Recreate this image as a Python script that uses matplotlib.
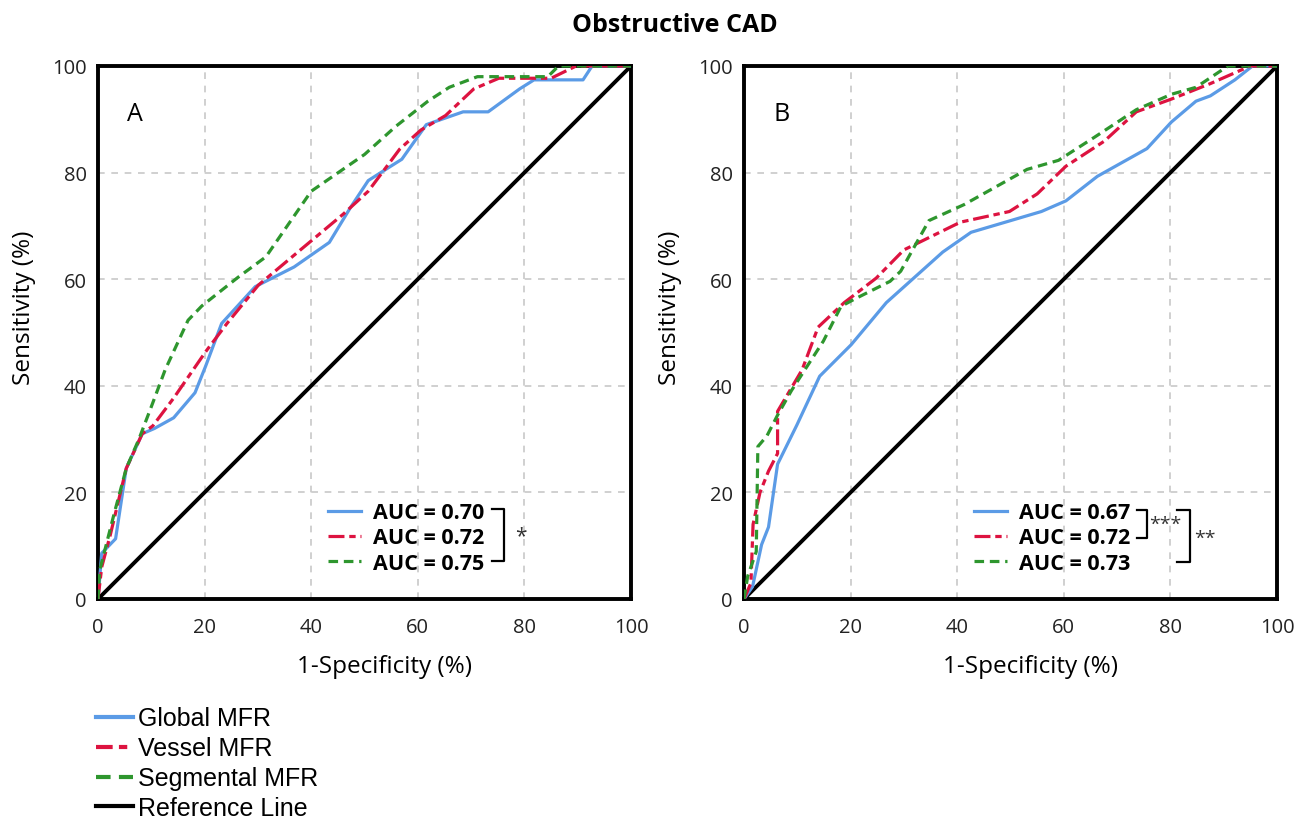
import matplotlib.pyplot as plt
from matplotlib.lines import Line2D

plt.rcParams['font.family'] = ['Open Sans', 'DejaVu Sans']

# Panel A data (1-Specificity %, Sensitivity %)
a_global_x = [0, 0.7, 3.3, 5.3, 8.3, 10.6, 14.2, 18.2, 20.2, 23.2, 29.5, 36.8, 43.4, 47.4, 50.7, 54.3, 57.0, 61.6, 68.5, 73.2, 79.1, 81.8, 91.0, 92.7, 100]
a_global_y = [0, 8.6, 11.3, 24.5, 31.0, 32.0, 34.0, 38.7, 43.7, 51.7, 58.6, 62.3, 66.9, 73.5, 78.5, 80.8, 82.5, 89.0, 91.4, 91.4, 95.7, 97.4, 97.4, 100, 100]
a_vessel_x = [0, 0.7, 2.3, 5.3, 8.3, 10.3, 14.2, 20.2, 24.2, 30.1, 38.1, 46.0, 50.7, 56.6, 60.6, 65.2, 70.5, 75.2, 85.0, 89.7, 100]
a_vessel_y = [0, 6.0, 12.0, 24.5, 31.0, 32.5, 37.7, 46.4, 51.7, 58.9, 65.6, 72.2, 76.5, 84.4, 88.0, 90.7, 95.7, 97.7, 97.7, 100, 100]
a_seg_x = [0, 0.3, 3.0, 5.3, 7.6, 9.9, 12.6, 16.9, 19.5, 26.2, 31.5, 40.0, 50.0, 55.9, 61.9, 65.9, 71.2, 84.4, 86.4, 100]
a_seg_y = [0, 5.3, 15.9, 24.5, 29.8, 35.8, 43.0, 52.3, 55.0, 60.3, 64.2, 76.5, 83.4, 88.7, 93.4, 96.0, 98.0, 98.0, 100, 100]

# Panel B data
b_global_x = [0, 1.6, 3.3, 4.6, 6.3, 9.9, 14.2, 20.1, 26.7, 37.3, 42.6, 55.8, 60.4, 66.3, 75.6, 80.2, 84.8, 87.5, 92.1, 95.4, 100]
b_global_y = [0, 2.3, 10.2, 13.5, 25.3, 32.6, 41.8, 47.7, 55.6, 65.1, 68.8, 72.7, 74.7, 79.3, 84.5, 89.5, 93.4, 94.4, 97.4, 100, 100]
b_vessel_x = [0, 1.3, 1.7, 3.0, 4.6, 6.3, 6.3, 10.9, 13.9, 18.8, 24.8, 30.0, 35.3, 40.6, 49.8, 55.0, 60.4, 67.6, 73.6, 80.2, 87.5, 95.0, 100]
b_vessel_y = [0, 3.0, 14.0, 20.0, 24.0, 27.3, 35.2, 43.0, 51.0, 55.6, 60.2, 65.5, 68.1, 70.7, 72.7, 76.0, 81.2, 85.9, 91.4, 93.8, 96.7, 100, 100]
b_seg_x = [0, 0.7, 2.3, 2.6, 4.3, 6.3, 8.9, 14.9, 18.2, 20.8, 27.4, 29.4, 34.7, 41.3, 53.1, 59.0, 65.7, 73.6, 80.2, 84.8, 90.8, 100]
b_seg_y = [0, 4.3, 8.9, 28.6, 30.6, 34.5, 39.1, 48.4, 54.9, 56.3, 59.6, 61.5, 71.0, 74.0, 80.6, 82.3, 86.6, 91.8, 94.7, 96.0, 100, 100]

ref = [0, 100]
ticks = [0, 20, 40, 60, 80, 100]
auc_a = ['AUC = 0.70', 'AUC = 0.72', 'AUC = 0.75']
auc_b = ['AUC = 0.67', 'AUC = 0.72', 'AUC = 0.73']
series_names = ['Global MFR', 'Vessel MFR', 'Segmental MFR', 'Reference Line']

c_blue = '#5B9BE6'
c_red = '#DD1340'
c_green = '#2E962E'
lw = 2.3
red_dash = (5, 1.5, 2, 1.5)
green_dash = (3, 1.8)

fig = plt.figure(figsize=(13.09, 8.2), dpi=100)
axA = fig.add_axes([98 / 1309, 1 - 600 / 820, 533 / 1309, 533 / 820])
axB = fig.add_axes([744 / 1309, 1 - 600 / 820, 533 / 1309, 533 / 820])


def draw_panel(ax, gx, gy, vx, vy, sx, sy, letter, aucs):
    ax.plot(ref, ref, color='black', lw=2.8, zorder=3)
    lg, = ax.plot(gx, gy, color=c_blue, lw=lw, zorder=4)
    lv, = ax.plot(vx, vy, color=c_red, lw=lw, dashes=red_dash, zorder=5)
    ls, = ax.plot(sx, sy, color=c_green, lw=lw, dashes=green_dash, zorder=6)
    ax.set_xlim(0, 100)
    ax.set_ylim(0, 100)
    ax.set_xticks(ticks)
    ax.set_yticks(ticks)
    ax.tick_params(length=0, labelsize=14.5, colors='#222222')
    ax.tick_params(axis='x', pad=13)
    ax.tick_params(axis='y', pad=8)
    ax.grid(True, color='#c8c8c8', lw=1.2, linestyle=(0, (4, 4)))
    for sp in ax.spines.values():
        sp.set_linewidth(2.8)
        sp.set_color('black')
    ax.set_xlabel('1-Specificity (%)', fontsize=17.5, labelpad=12, x=0.538)
    ax.set_ylabel('Sensitivity (%)', fontsize=17.5, labelpad=12, y=0.548)
    ax.text(0.055, 0.91, letter, transform=ax.transAxes, fontsize=18,
            ha='left', va='center')
    leg = ax.legend([lg, lv, ls], aucs, loc='lower left',
                    bbox_to_anchor=(0.396, 0.011), frameon=False,
                    handlelength=1.5, handletextpad=0.55, labelspacing=0.2,
                    prop={'weight': 'bold', 'size': 15.5})
    leg.set_zorder(10)
    return ax


draw_panel(axA, a_global_x, a_global_y, a_vessel_x, a_vessel_y,
           a_seg_x, a_seg_y, 'A', auc_a)
draw_panel(axB, b_global_x, b_global_y, b_vessel_x, b_vessel_y,
           b_seg_x, b_seg_y, 'B', auc_b)

# significance brackets
tA = axA.transAxes
axA.plot([0.739, 0.762, 0.762, 0.739], [0.169, 0.169, 0.071, 0.071],
         color='black', lw=1.6, transform=tA, clip_on=False, zorder=11)
axA.text(0.782, 0.118, '*', transform=tA, fontsize=15, ha='left', va='center',
         color='#333333')

tB = axB.transAxes
axB.plot([0.737, 0.756, 0.756, 0.737], [0.167, 0.167, 0.115, 0.115],
         color='black', lw=1.6, transform=tB, clip_on=False, zorder=11)
axB.text(0.760, 0.141, '***', transform=tB, fontsize=14, ha='left', va='center',
         color='#333333')
axB.plot([0.812, 0.837, 0.837, 0.812], [0.167, 0.167, 0.069, 0.069],
         color='black', lw=1.6, transform=tB, clip_on=False, zorder=11)
axB.text(0.844, 0.115, '**', transform=tB, fontsize=14, ha='left', va='center',
         color='#333333')

fig.text(675 / 1309, 1 - 25 / 820, 'Obstructive CAD', ha='center', va='center',
         fontsize=18, fontweight='bold')

handles = [
    Line2D([], [], color=c_blue, lw=3),
    Line2D([], [], color=c_red, lw=3, dashes=(4, 1.5, 2, 1.5)),
    Line2D([], [], color=c_green, lw=3, dashes=(3.5, 2)),
    Line2D([], [], color='black', lw=3),
]
fig.legend(handles, series_names, loc='upper left',
           bbox_to_anchor=(0.0565, 1 - 685 / 820), frameon=False,
           handlelength=1.45, handletextpad=0.2, labelspacing=0.235,
           prop={'family': 'Liberation Sans', 'size': 18})

fig.savefig('out.png', dpi=100)
